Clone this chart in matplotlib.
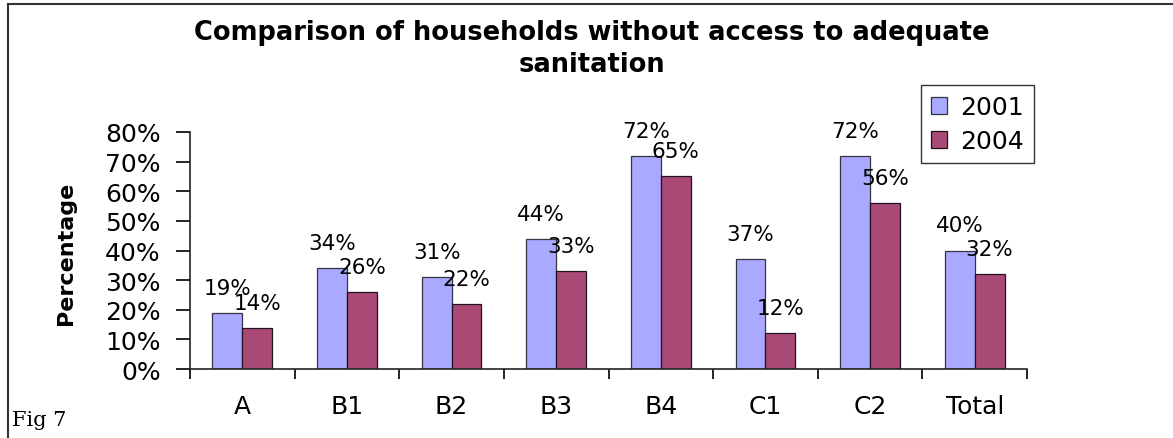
import numpy as np
import matplotlib
matplotlib.use('Agg')
import matplotlib.pyplot as plt
from matplotlib.ticker import FixedLocator, FuncFormatter
from matplotlib.lines import Line2D

categories = ['A', 'B1', 'B2', 'B3', 'B4', 'C1', 'C2', 'Total']
values_2001 = [19, 34, 31, 44, 72, 37, 72, 40]
values_2004 = [14, 26, 22, 33, 65, 12, 56, 32]
y_ticks = [0, 10, 20, 30, 40, 50, 60, 70, 80]

col_2001 = '#A9A9FF'
col_2004 = '#A94A76'

plt.rcParams['font.family'] = ['DejaVu Sans']

fig = plt.figure(figsize=(11.73, 4.39), dpi=100)
ax = fig.add_axes([190/1173, 1-370/439, (1027-190)/1173, (370-133)/439])

x = np.arange(len(categories))
w = 0.285
b1 = ax.bar(x - w/2, values_2001, w, color=col_2001, edgecolor='#333344', linewidth=0.9, label='2001')
b2 = ax.bar(x + w/2, values_2004, w, color=col_2004, edgecolor='#221122', linewidth=0.9, label='2004')

# data labels, same spot Excel put them (a bit above each bar)
for bars, vals in [(b1, values_2001), (b2, values_2004)]:
    for r, v in zip(bars, vals):
        ax.annotate('%d%%' % v, (r.get_x() + r.get_width()/2, v),
                    xytext=(0, 18), textcoords='offset points',
                    ha='center', va='center', fontsize=15.5)

ax.set_xlim(-0.5, len(categories) - 0.5)
ax.set_ylim(0, 80)
ax.set_yticks(y_ticks)
ax.yaxis.set_major_formatter(FuncFormatter(lambda v, p: '%d%%' % v))
ax.set_xticks(x)
ax.set_xticklabels(categories)
ax.xaxis.set_minor_locator(FixedLocator(np.arange(len(categories) + 1) - 0.5))
ax.tick_params(axis='x', which='major', length=0, pad=18, labelsize=18)
ax.tick_params(axis='x', which='minor', length=7, width=1.2, direction='out')
ax.tick_params(axis='y', length=10, width=1.2, pad=11, labelsize=18)

for s in ['top', 'right']:
    ax.spines[s].set_visible(False)
for s in ['left', 'bottom']:
    ax.spines[s].set_linewidth(1.2)
    ax.spines[s].set_color('#222222')

ax.set_ylabel('Percentage', fontsize=16, fontweight='bold')
ax.yaxis.set_label_coords(-114/837, 0.49)

leg = ax.legend(loc='upper left', bbox_to_anchor=((921-190)/837, 1 + (133-86)/237),
                fontsize=18, frameon=True, fancybox=False, handlelength=0.65,
                handleheight=0.65, handletextpad=0.5, borderpad=0.4, labelspacing=0.4,
                borderaxespad=0)
leg.get_frame().set_edgecolor('black')
leg.get_frame().set_linewidth(1.0)

fig.text(592/1173, 1-33/439, 'Comparison of households without access to adequate',
         ha='center', va='center', fontsize=18.5, fontweight='bold')
fig.text(592/1173, 1-65/439, 'sanitation',
         ha='center', va='center', fontsize=18.5, fontweight='bold')

fig.text(12/1173, 1-421/439, 'Fig 7', ha='left', va='center', fontsize=15,
         family=['DejaVu Serif'])

# page frame
fig.add_artist(Line2D([8/1173, 8/1173], [0, 1-5/439], transform=fig.transFigure, color='#333333', lw=1.5))
fig.add_artist(Line2D([8/1173, 1], [1-5/439, 1-5/439], transform=fig.transFigure, color='#333333', lw=1.5))

fig.savefig('out.png', dpi=100)
